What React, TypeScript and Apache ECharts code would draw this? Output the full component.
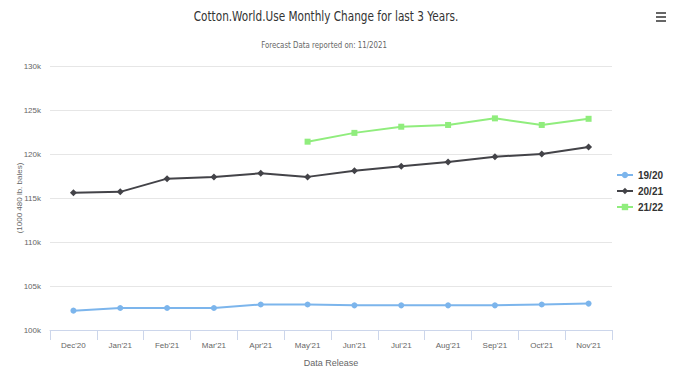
import React, { useEffect, useRef } from "react";
import * as echarts from "echarts";

const categories = ["Dec'20", "Jan'21", "Feb'21", "Mar'21", "Apr'21", "May'21", "Jun'21", "Jul'21", "Aug'21", "Sep'21", "Oct'21", "Nov'21"];
const s1920 = [102.2, 102.5, 102.5, 102.5, 102.9, 102.9, 102.8, 102.8, 102.8, 102.8, 102.9, 103.0];
const s2021 = [115.6, 115.7, 117.2, 117.4, 117.8, 117.4, 118.1, 118.6, 119.1, 119.7, 120.0, 120.8];
const s2122 = [null, null, null, null, null, 121.4, 122.4, 123.1, 123.3, 124.05, 123.3, 124.0];
const seriesNames = ["19/20", "20/21", "21/22"];
const titleText = "Cotton.World.Use Monthly Change for last 3 Years.";
const subtitleText = "Forecast Data reported on: 11/2021";

const FONT = "'Liberation Sans', Arial, sans-serif";

export default function App() {
  const ref = useRef<HTMLDivElement>(null);
  useEffect(() => {
    const chart = echarts.init(ref.current!, null, { renderer: "svg" });
    chart.setOption({
      animation: false,
      backgroundColor: "#fff",
      legend: {
        orient: "vertical",
        right: 10,
        top: 165,
        itemGap: 6,
        itemWidth: 16,
        itemHeight: 8,
        data: seriesNames,
        textStyle: { fontFamily: FONT, fontSize: 10, fontWeight: "bold", color: "#333" },
      },
      grid: { left: 50, right: 66, top: 66, bottom: 50 },
      xAxis: {
        type: "category",
        data: categories,
        boundaryGap: true,
        name: "Data Release",
        nameLocation: "middle",
        nameGap: 28,
        nameTextStyle: { fontFamily: FONT, fontSize: 9, color: "#666" },
        axisLine: { lineStyle: { color: "#ccd6eb" } },
        axisTick: { show: true, length: 10, lineStyle: { color: "#ccd6eb" } },
        axisLabel: { fontFamily: FONT, fontSize: 8, color: "#666", margin: 11 },
      },
      yAxis: {
        type: "value",
        min: 100,
        max: 130,
        interval: 5,
        name: "(1000 480 lb. bales)",
        nameLocation: "middle",
        nameRotate: 90,
        nameGap: 27,
        nameMoveOverlap: false,
        nameTextStyle: { fontFamily: FONT, fontSize: 8, color: "#666" },
        axisLine: { show: false },
        axisTick: { show: false },
        splitLine: { lineStyle: { color: "#e6e6e6" } },
        axisLabel: {
          fontFamily: FONT,
          fontSize: 8,
          color: "#666",
          margin: 9,
          formatter: (v: number) => v + "k",
        },
      },
      series: [
        {
          name: seriesNames[0],
          type: "line",
          data: s1920,
          color: "#7cb5ec",
          symbol: "circle",
          symbolSize: 6,
          lineStyle: { width: 2 },
        },
        {
          name: seriesNames[1],
          type: "line",
          data: s2021,
          color: "#434348",
          symbol: "diamond",
          symbolSize: 7,
          lineStyle: { width: 2 },
        },
        {
          name: seriesNames[2],
          type: "line",
          data: s2122,
          color: "#90ed7d",
          symbol: "rect",
          symbolSize: 6,
          lineStyle: { width: 2 },
        },
      ],
      graphic: [
        {
          type: "text",
          x: 326,
          y: 16,
          scaleX: 0.75,
          style: {
            text: titleText,
            font: "normal 14px 'DejaVu Sans', sans-serif",
            fill: "#333",
            textAlign: "center",
            textVerticalAlign: "middle",
          },
        },
        {
          type: "text",
          x: 324,
          y: 45,
          scaleX: 0.78,
          style: {
            text: subtitleText,
            font: "normal 9px 'DejaVu Sans', sans-serif",
            fill: "#666",
            textAlign: "center",
            textVerticalAlign: "middle",
          },
        },
        { type: "rect", shape: { x: 656, y: 12, width: 10, height: 2 }, style: { fill: "#666" } },
        { type: "rect", shape: { x: 656, y: 16, width: 10, height: 2 }, style: { fill: "#666" } },
        { type: "rect", shape: { x: 656, y: 20, width: 10, height: 2 }, style: { fill: "#666" } },
      ],
    });
    return () => chart.dispose();
  }, []);
  return <div ref={ref} style={{ position: "fixed", left: 0, top: 0, width: 678, height: 380 }} />;
}
